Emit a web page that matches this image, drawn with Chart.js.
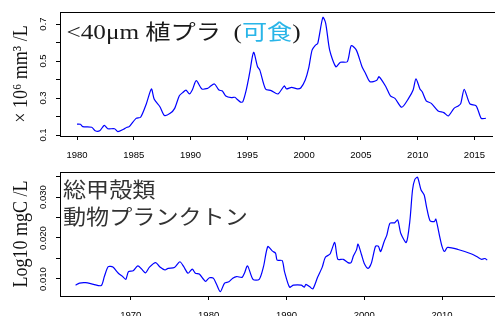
<!DOCTYPE html>
<html>
<head>
<meta charset="utf-8">
<script src="https://cdn.jsdelivr.net/npm/chart.js@4.4.0/dist/chart.umd.min.js"></script>
<style>
  body { margin: 0; background: #fff; overflow: hidden; }
  #wrap { position: relative; width: 495px; height: 316px; overflow: hidden; }
  canvas { position: absolute; left: 0; }
  #c1 { top: 0; }
  #c2 { top: 160px; }
</style>
</head>
<body>
<div id="wrap">
  <canvas id="c1" width="495" height="160"></canvas>
  <canvas id="c2" width="495" height="156"></canvas>
</div>
<script>
// --- <40um 植プラ (可食), x10^6 mm3/L
var phytoYears = [1980.0, 1980.3, 1980.5, 1981.3, 1981.6, 1982.0, 1982.4, 1982.7, 1983.3, 1983.6,
  1984.1, 1984.4, 1984.6, 1985.2, 1985.6, 1986.1, 1986.55, 1986.8, 1987.3, 1987.7,
  1988.2, 1988.6, 1989.0, 1989.3, 1989.6, 1989.9, 1990.15, 1990.5, 1991.0, 1991.5,
  1991.7, 1992.1, 1992.5, 1992.8, 1993.1, 1993.6, 1993.9, 1994.1, 1994.4, 1994.6,
  1994.9, 1995.2, 1995.55, 1995.9, 1996.1, 1996.6, 1997.1, 1997.7, 1998.25, 1998.45,
  1998.9, 1999.4, 1999.7, 2000.1, 2000.4, 2000.7, 2001.0, 2001.2, 2001.65, 2001.9,
  2002.25, 2002.8, 2003.2, 2003.8, 2004.15, 2004.6, 2005.1, 2005.4, 2005.8, 2006.4,
  2006.6, 2007.2, 2007.6, 2008.0, 2008.6, 2009.2, 2009.6, 2009.85, 2010.2, 2010.4,
  2010.75, 2011.2, 2011.8, 2012.3, 2012.7, 2013.2, 2013.6, 2013.8, 2014.1, 2014.6,
  2015.15, 2015.6, 2016.0];
var phytoValues = [0.159, 0.158, 0.145, 0.142, 0.123, 0.123, 0.152, 0.134, 0.134, 0.118,
  0.131, 0.142, 0.145, 0.190, 0.196, 0.268, 0.349, 0.293, 0.253, 0.206,
  0.217, 0.244, 0.311, 0.329, 0.343, 0.322, 0.343, 0.394, 0.349, 0.352,
  0.361, 0.376, 0.343, 0.338, 0.311, 0.302, 0.304, 0.293, 0.278, 0.280,
  0.343, 0.434, 0.547, 0.469, 0.451, 0.349, 0.340, 0.322, 0.365, 0.349,
  0.358, 0.349, 0.354, 0.397, 0.461, 0.559, 0.586, 0.595, 0.736, 0.704,
  0.559, 0.469, 0.493, 0.496, 0.583, 0.559, 0.469, 0.434, 0.388, 0.396,
  0.415, 0.361, 0.311, 0.298, 0.250, 0.298, 0.343, 0.404, 0.349, 0.334,
  0.285, 0.271, 0.230, 0.221, 0.203, 0.244, 0.258, 0.271, 0.347, 0.268,
  0.258, 0.190, 0.190];

// --- 総甲殻類 動物プランクトン, Log10 mgC/L
var zooYears = [1962.9, 1963.4, 1964.2, 1965.2, 1966.2, 1966.6, 1967.1, 1967.7, 1968.4, 1968.9,
  1969.35, 1969.7, 1970.3, 1970.9, 1971.4, 1971.9, 1972.4, 1973.2, 1973.7, 1974.4,
  1974.8, 1975.6, 1976.3, 1976.8, 1977.35, 1977.9, 1978.3, 1978.8, 1979.35, 1979.6,
  1980.1, 1980.6, 1981.0, 1981.5, 1982.05, 1982.6, 1983.1, 1983.6, 1984.3, 1984.6,
  1985.0, 1985.7, 1986.5, 1987.05, 1987.6, 1988.2, 1988.6, 1988.8, 1989.45, 1989.75,
  1990.4, 1990.9, 1991.9, 1992.3, 1992.5, 1993.0, 1993.4, 1994.0, 1994.6, 1995.0,
  1995.6, 1996.2, 1996.6, 1997.3, 1997.9, 1998.3, 1998.6, 1999.0, 1999.2, 1999.65,
  2000.0, 2000.5, 2000.9, 2001.45, 2001.8, 2002.1, 2002.55, 2002.9, 2003.3, 2003.9,
  2004.3, 2004.7, 2005.4, 2005.85, 2006.2, 2006.5, 2006.85, 2007.3, 2007.7, 2008.0,
  2008.45, 2009.0, 2009.2, 2009.7, 2010.0, 2010.3, 2010.7, 2012.05, 2013.8, 2014.6,
  2015.1, 2015.5, 2015.8];
var zooValues = [0.0085, 0.0090, 0.0091, 0.0087, 0.0084, 0.0106, 0.0130, 0.0129, 0.0114, 0.0107,
  0.0099, 0.0118, 0.0120, 0.0132, 0.0124, 0.0115, 0.0129, 0.0140, 0.0130, 0.0122,
  0.0126, 0.0128, 0.0142, 0.0130, 0.0114, 0.0124, 0.0114, 0.0112, 0.0099, 0.0094,
  0.0103, 0.0102, 0.0088, 0.0069, 0.0090, 0.0093, 0.0102, 0.0106, 0.0104, 0.0114,
  0.0132, 0.0099, 0.0099, 0.0130, 0.0179, 0.0168, 0.0163, 0.0146, 0.0145, 0.0118,
  0.0080, 0.0085, 0.0085, 0.0080, 0.0087, 0.0081, 0.0076, 0.0104, 0.0129, 0.0153,
  0.0161, 0.0189, 0.0148, 0.0148, 0.0140, 0.0140, 0.0156, 0.0171, 0.0185, 0.0159,
  0.0138, 0.0126, 0.0138, 0.0180, 0.0180, 0.0167, 0.0191, 0.0207, 0.0236, 0.0237,
  0.0244, 0.0211, 0.0189, 0.0240, 0.0317, 0.0343, 0.0348, 0.0317, 0.0305, 0.0276,
  0.0242, 0.0240, 0.0246, 0.0203, 0.0179, 0.0167, 0.0177, 0.0172, 0.0161, 0.0153,
  0.0148, 0.0150, 0.0146];

// axis ticks
var phytoXTicks = [1980, 1985, 1990, 1995, 2000, 2005, 2010, 2015];
var phytoYTicks = [0.1, 0.2, 0.3, 0.4, 0.5, 0.6, 0.7];
var phytoYLabels = ['0.1', '', '0.3', '', '0.5', '', '0.7'];
var zooXTicks = [1970, 1980, 1990, 2000, 2010];
var zooYTicks = [0.010, 0.015, 0.020, 0.025, 0.030, 0.035];
var zooYLabels = ['0.010', '', '0.020', '', '0.030', ''];

var SERIF = '"Liberation Serif", "Times New Roman", serif';
var CJK = '"Noto Sans CJK JP", sans-serif';

function toPoints(xs, ys) {
  var pts = [];
  for (var i = 0; i < xs.length; i++) {
    pts.push({ x: xs[i], y: ys[i] });
  }
  return pts;
}

// box lines, rotated y labels, y title and the text inside the plot
function decoPlugin(yVals, yLabels, yTitle, drawInside) {
  return {
    id: 'deco',
    afterDraw: function (chart) {
      var ctx = chart.ctx;
      var a = chart.chartArea;
      var ys = chart.scales.y;

      ctx.save();
      ctx.strokeStyle = '#000';
      ctx.lineWidth = 1;
      ctx.beginPath();
      ctx.moveTo(a.left + 0.5, a.bottom);
      ctx.lineTo(a.left + 0.5, a.top + 0.5);
      ctx.lineTo(a.right + 5, a.top + 0.5);
      ctx.stroke();

      ctx.fillStyle = '#000';
      ctx.font = '9.5px "Liberation Sans", Arial, sans-serif';
      ctx.textAlign = 'center';
      ctx.textBaseline = 'middle';
      for (var i = 0; i < yVals.length; i++) {
        if (!yLabels[i]) continue;
        var py = ys.getPixelForValue(yVals[i]);
        ctx.save();
        ctx.translate(43, py);
        ctx.rotate(-Math.PI / 2);
        ctx.fillText(yLabels[i], 0, 0);
        ctx.restore();
      }

      ctx.save();
      ctx.translate(21, (a.top + a.bottom) / 2);
      ctx.rotate(-Math.PI / 2);
      ctx.scale(1, 1.2);
      ctx.font = '18px ' + SERIF;
      ctx.fillStyle = '#111';
      ctx.fillText(yTitle, 0, 0);
      ctx.restore();

      drawInside(ctx, a);
      ctx.restore();
    }
  };
}

function makeOptions(xMin, xMax, yMin, yMax, xTicks, yTicks, xAxisHeight) {
  return {
    responsive: false,
    animation: false,
    layout: { padding: { top: 12, left: 0, right: 0, bottom: 0 } },
    plugins: { legend: { display: false }, tooltip: { enabled: false } },
    scales: {
      x: {
        type: 'linear',
        min: xMin,
        max: xMax,
        afterBuildTicks: function (s) { s.ticks = xTicks.map(function (v) { return { value: v }; }); },
        afterFit: function (s) { s.height = xAxisHeight; },
        grid: { drawOnChartArea: false, drawTicks: true, tickLength: 4, color: '#000' },
        border: { display: true, color: '#000', width: 1 },
        ticks: {
          color: '#000',
          padding: 10,
          maxRotation: 0,
          autoSkip: false,
          font: { family: '"Liberation Sans", Arial, sans-serif', size: 9.5 },
          callback: function (v) { return String(v); }
        }
      },
      y: {
        type: 'linear',
        min: yMin,
        max: yMax,
        afterBuildTicks: function (s) { s.ticks = yTicks.map(function (v) { return { value: v }; }); },
        afterFit: function (s) { s.width = 60; },
        grid: { drawOnChartArea: false, drawTicks: true, tickLength: 4, color: '#000' },
        border: { display: true, color: '#000', width: 1 },
        ticks: { display: false }
      }
    }
  };
}

function lineDataset(xs, ys) {
  return {
    data: toPoints(xs, ys),
    borderColor: '#0000ff',
    borderWidth: 1.2,
    pointRadius: 0,
    tension: 0.25,
    fill: false
  };
}

new Chart(document.getElementById('c1'), {
  type: 'line',
  data: { datasets: [lineDataset(phytoYears, phytoValues)] },
  options: makeOptions(1978.5, 2016.56, 0.0946, 0.765, phytoXTicks, phytoYTicks, 24),
  plugins: [decoPlugin(phytoYTicks, phytoYLabels, '× 10⁶ mm³ /L', function (ctx, a) {
    // title text is a bit wide, as in the original figure
    var parts = [
      ['<40μm ', SERIF, '#1a1a1a'],
      ['植プラ', CJK, '#1a1a1a'],
      ['  (', SERIF, '#1a1a1a'],
      ['可食', CJK, '#29b5e8'],
      [')', SERIF, '#1a1a1a']
    ];
    ctx.save();
    ctx.translate(a.left + 6.5, 38.5);
    ctx.scale(1.2, 1);
    ctx.textAlign = 'left';
    ctx.textBaseline = 'alphabetic';
    var x = 0;
    for (var i = 0; i < parts.length; i++) {
      ctx.font = '21px ' + parts[i][1];
      ctx.fillStyle = parts[i][2];
      ctx.fillText(parts[i][0], x, 0);
      x += ctx.measureText(parts[i][0]).width;
    }
    ctx.restore();
  })]
});

new Chart(document.getElementById('c2'), {
  type: 'line',
  data: { datasets: [lineDataset(zooYears, zooValues)] },
  options: makeOptions(1960.9, 2016.8, 0.00585, 0.0361, zooXTicks, zooYTicks, 20),
  plugins: [decoPlugin(zooYTicks, zooYLabels, 'Log10 mgC /L', function (ctx, a) {
    ctx.save();
    ctx.translate(a.left + 3, 0);
    ctx.scale(1.1, 1);
    ctx.font = '21px ' + CJK;
    ctx.fillStyle = '#333';
    ctx.textAlign = 'left';
    ctx.textBaseline = 'alphabetic';
    ctx.fillText('総甲殻類', 0, 37);
    ctx.fillText('動物プランクトン', 0, 64);
    ctx.restore();
  })]
});
</script>
</body>
</html>
